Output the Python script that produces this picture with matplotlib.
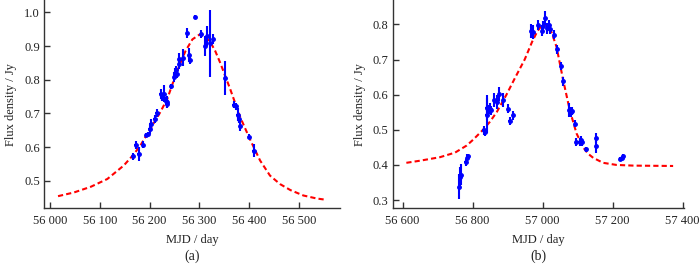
import matplotlib
matplotlib.use("Agg")
import matplotlib.pyplot as plt
from matplotlib.ticker import FuncFormatter

plt.rcParams['font.family'] = ['Liberation Serif', 'DejaVu Serif']

# ---- Panel (a) data ----
a_mjd = [56167, 56172, 56178, 56187, 56193, 56197, 56200, 56202, 56210, 56214,
         56222, 56225, 56228, 56232, 56234, 56235, 56243, 56250, 56252, 56254,
         56256, 56259, 56260, 56267, 56275, 56279, 56281, 56292, 56304, 56311,
         56316, 56322, 56328, 56352, 56369, 56374, 56377, 56379, 56382, 56400,
         56409]
a_flux = [0.572, 0.606, 0.579, 0.607, 0.636, 0.639, 0.654, 0.667, 0.684, 0.701,
          0.758, 0.748, 0.758, 0.738, 0.729, 0.733, 0.780, 0.808, 0.820, 0.828,
          0.818, 0.848, 0.863, 0.865, 0.940, 0.873, 0.858, 0.987, 0.937, 0.900,
          0.930, 0.908, 0.920, 0.806, 0.726, 0.721, 0.696, 0.683, 0.664, 0.631,
          0.589]
a_err = [0.010, 0.012, 0.020, 0.010, 0.006, 0.006, 0.015, 0.015, 0.012, 0.012,
         0.015, 0.012, 0.025, 0.012, 0.012, 0.018, 0.008, 0.015, 0.015, 0.012,
         0.012, 0.015, 0.015, 0.025, 0.015, 0.020, 0.010, 0.006, 0.012, 0.030,
         0.030, 0.100, 0.015, 0.050, 0.010, 0.010, 0.020, 0.012, 0.015, 0.008,
         0.020]
a_fit_mjd = [56016, 56048, 56082, 56115, 56148, 56168, 56182, 56202, 56222, 56236,
             56249, 56262, 56272, 56286, 56300, 56312, 56322, 56332, 56342, 56362,
             56382, 56402, 56422, 56442, 56462, 56483, 56509, 56536, 56556]
a_fit_flux = [0.454, 0.465, 0.482, 0.505, 0.545, 0.578, 0.606, 0.655, 0.705, 0.745,
              0.800, 0.850, 0.885, 0.920, 0.934, 0.928, 0.912, 0.885, 0.850, 0.772,
              0.689, 0.622, 0.560, 0.515, 0.490, 0.472, 0.456, 0.447, 0.443]
a_xticks = [56000, 56100, 56200, 56300, 56400, 56500]
a_yticks = [0.5, 0.6, 0.7, 0.8, 0.9, 1.0]

# ---- Panel (b) data ----
b_mjd = [56762, 56765, 56767, 56780, 56784, 56787, 56832, 56836, 56840, 56840,
         56845, 56850, 56854, 56861, 56871, 56876, 56887, 56902, 56906, 56916,
         56967, 56972, 56987, 56999, 57000, 57007, 57014, 57018, 57021, 57032,
         57042, 57052, 57059, 57076, 57081, 57085, 57092, 57097, 57106, 57109,
         57112, 57124, 57154, 57154, 57221, 57226, 57230]
b_flux = [0.338, 0.365, 0.372, 0.408, 0.420, 0.424, 0.498, 0.493, 0.563, 0.541,
          0.555, 0.560, 0.555, 0.584, 0.579, 0.601, 0.584, 0.560, 0.525, 0.541,
          0.782, 0.779, 0.798, 0.782, 0.795, 0.817, 0.789, 0.798, 0.786, 0.771,
          0.729, 0.681, 0.638, 0.555, 0.550, 0.553, 0.517, 0.465, 0.465, 0.472,
          0.465, 0.444, 0.477, 0.453, 0.417, 0.420, 0.424]
b_err = [0.035, 0.030, 0.030, 0.010, 0.010, 0.008, 0.012, 0.010, 0.035, 0.050,
         0.015, 0.015, 0.012, 0.020, 0.020, 0.020, 0.020, 0.012, 0.010, 0.012,
         0.020, 0.020, 0.015, 0.015, 0.015, 0.020, 0.015, 0.015, 0.012, 0.012,
         0.012, 0.012, 0.012, 0.020, 0.015, 0.012, 0.010, 0.012, 0.012, 0.010,
         0.010, 0.008, 0.015, 0.020, 0.006, 0.006, 0.006]
b_fit_mjd = [56611, 56650, 56707, 56750, 56783, 56802, 56830, 56849, 56869, 56897,
             56920, 56949, 56970, 56985, 57000, 57012, 57021, 57030, 57040, 57059,
             57078, 57097, 57116, 57130, 57145, 57173, 57211, 57260, 57373]
b_fit_flux = [0.406, 0.412, 0.422, 0.435, 0.455, 0.472, 0.500, 0.522, 0.550, 0.600,
              0.645, 0.700, 0.750, 0.780, 0.800, 0.798, 0.790, 0.765, 0.736, 0.641,
              0.555, 0.490, 0.450, 0.432, 0.420, 0.406, 0.400, 0.398, 0.397]
b_xticks = [56600, 56800, 57000, 57200, 57400]
b_yticks = [0.3, 0.4, 0.5, 0.6, 0.7, 0.8]

fig = plt.figure(figsize=(7.0, 2.66), dpi=100)
ax_a = fig.add_axes([0.063, 0.217, 0.423, 0.783])
ax_b = fig.add_axes([0.561, 0.217, 0.4166, 0.783])

fmt_x = FuncFormatter(lambda v, p: f"{int(round(v)):,}".replace(",", " "))
fmt_y = FuncFormatter(lambda v, p: f"{v:.1f}")

FS = 9.0
TXT = '#222222'

def style(ax, xt, yt, xlim, ylim, label):
    ax.set_xlim(*xlim)
    ax.set_ylim(*ylim)
    ax.set_xticks(xt)
    ax.set_yticks(yt)
    ax.xaxis.set_major_formatter(fmt_x)
    ax.yaxis.set_major_formatter(fmt_y)
    for s in ['top', 'right']:
        ax.spines[s].set_visible(False)
    for s in ['left', 'bottom']:
        ax.spines[s].set_linewidth(1.0)
        ax.spines[s].set_color('#333333')
    ax.tick_params(direction='in', length=4, width=1.0, color='#333333',
                   labelsize=FS, labelcolor=TXT)
    ax.tick_params(axis='x', pad=5)
    ax.tick_params(axis='y', pad=3)
    ax.set_xlabel('MJD / day', fontsize=FS, labelpad=5, color=TXT)
    ax.set_ylabel('Flux density / Jy', fontsize=FS, labelpad=5, color=TXT)
    pos = ax.get_position()
    fig.text((pos.x0 + pos.x1) / 2, 0.038, label, ha='center', va='center',
             fontsize=10, color=TXT)

ax_a.plot(a_fit_mjd, a_fit_flux, color='#ff0000', lw=1.5, dashes=(2.5, 1.5), zorder=2)
ax_a.errorbar(a_mjd, a_flux, yerr=a_err, xerr=2.5, fmt='o', color='#0000ff',
              ms=2.5, elinewidth=1.5, capsize=0, zorder=3)
style(ax_a, a_xticks, a_yticks, (55988, 56583), (0.418, 1.037), '(a)')

ax_b.plot(b_fit_mjd, b_fit_flux, color='#ff0000', lw=1.5, dashes=(2.5, 1.5), zorder=2)
ax_b.errorbar(b_mjd, b_flux, yerr=b_err, xerr=3.5, fmt='o', color='#0000ff',
              ms=2.5, elinewidth=1.5, capsize=0, zorder=3)
style(ax_b, b_xticks, b_yticks, (56572, 57405), (0.2766, 0.8694), '(b)')

fig.savefig('out.png', dpi=100)
